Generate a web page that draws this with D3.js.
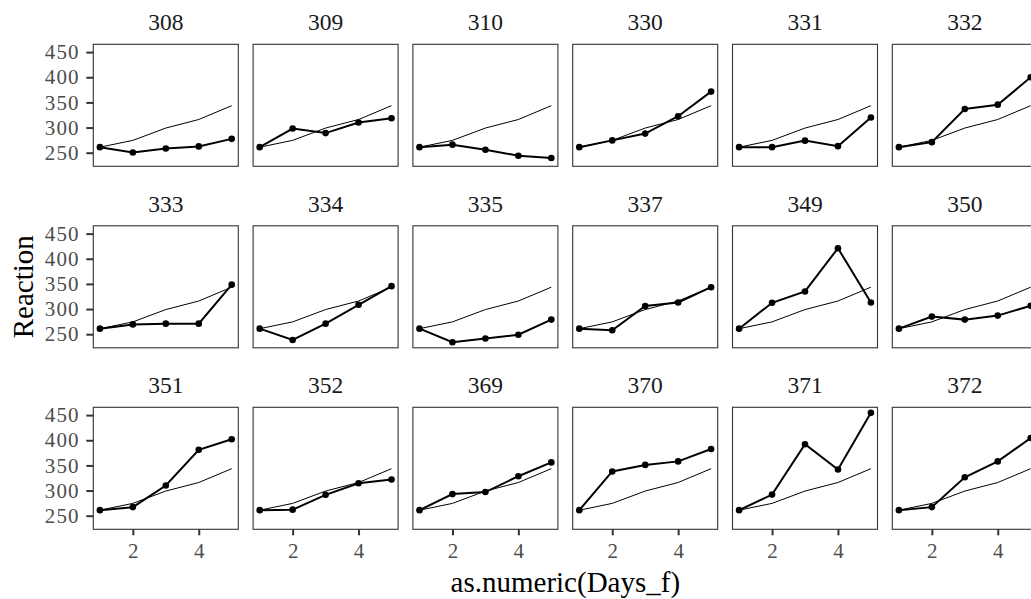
<!DOCTYPE html>
<html>
<head>
<meta charset="utf-8">
<script src="https://cdn.jsdelivr.net/npm/d3@7"></script>
<style>
  body { margin: 0; background: #fff; }
  svg { display: block; font-family: "Liberation Serif", "Times New Roman", serif; }
</style>
</head>
<body>
<div id="chart"></div>
<script>
// Data
const days = [1, 2, 3, 4, 5];
const subjects = ['308', '309', '310', '330', '331', '332',
                  '333', '334', '335', '337', '349', '350',
                  '351', '352', '369', '370', '371', '372'];
const meanReaction = [261, 274.5, 299, 316, 343.5];
const reaction = [
    [261, 250.5, 258.5, 262.5, 277.5],
    [261, 298, 289, 310, 318.5],
    [261, 266, 256, 244, 239.5],
    [261, 274.5, 288, 322.5, 371.5],
    [261, 261, 274, 263, 320],
    [261, 271, 337, 345.5, 400],
    [261, 269.5, 271, 271, 348.5],
    [261, 238.5, 271, 308.5, 345.5],
    [261, 234, 241.5, 249, 279],
    [261, 258, 306, 313, 343.5],
    [261, 312.5, 335, 421, 313],
    [261, 285, 279, 287, 306.5],
    [261, 267, 310, 381, 402],
    [261, 262, 291.5, 314.5, 322],
    [261, 293, 297, 328.5, 356],
    [261, 338, 351, 358, 382.5],
    [261, 292, 392, 342, 454.5],
    [261, 267, 326.5, 358, 404.5],
];
const yTicks = [250, 300, 350, 400, 450];
const xTicks = [2, 4];

// Dimensions
const dimensions = {
    width: 1031,
    height: 599,
    left: 93.3,
    top: 44.3,
    panelW: 145,
    panelH: 122,
    stepX: 159.8,
    stepY: 181.5,
    ncol: 6,
};
const nrow = Math.ceil(subjects.length / dimensions.ncol);

const svg = d3.select('#chart')
    .append('svg')
    .attr('width', dimensions.width)
    .attr('height', dimensions.height);

// Scales (ggplot-like 5% expansion)
const allY = reaction.flat().concat(meanReaction);
const [yLo, yHi] = d3.extent(allY);
const yPad = (yHi - yLo) * 0.05;
const xPad = (d3.max(days) - d3.min(days)) * 0.05;

const xScale = d3.scaleLinear()
    .domain([d3.min(days) - xPad, d3.max(days) + xPad])
    .range([0, dimensions.panelW]);
const yScale = d3.scaleLinear()
    .domain([yLo - yPad, yHi + yPad])
    .range([dimensions.panelH, 0]);

const line = d3.line()
    .x((d, i) => xScale(days[i]))
    .y(d => yScale(d));

subjects.forEach((subj, i) => {
    const col = i % dimensions.ncol;
    const row = Math.floor(i / dimensions.ncol);
    const g = svg.append('g')
        .attr('transform', `translate(${dimensions.left + col * dimensions.stepX}, ${dimensions.top + row * dimensions.stepY})`);

    g.append('rect')
        .attr('width', dimensions.panelW)
        .attr('height', dimensions.panelH)
        .attr('fill', '#fff');

    // Strip label
    g.append('text')
        .attr('x', dimensions.panelW / 2)
        .attr('y', -14)
        .attr('text-anchor', 'middle')
        .attr('font-size', 23.5)
        .attr('fill', '#1a1a1a')
        .text(subj);

    // Thin reference line
    g.append('path')
        .datum(meanReaction)
        .attr('d', line)
        .attr('fill', 'none')
        .attr('stroke', '#000')
        .attr('stroke-width', 1);

    // Subject line + points
    g.append('path')
        .datum(reaction[i])
        .attr('d', line)
        .attr('fill', 'none')
        .attr('stroke', '#000')
        .attr('stroke-width', 2);

    g.selectAll('circle')
        .data(reaction[i])
        .join('circle')
        .attr('cx', (d, j) => xScale(days[j]))
        .attr('cy', d => yScale(d))
        .attr('r', 3.3)
        .attr('fill', '#000');

    // Panel border
    g.append('rect')
        .attr('width', dimensions.panelW)
        .attr('height', dimensions.panelH)
        .attr('fill', 'none')
        .attr('stroke', '#333')
        .attr('stroke-width', 1.1);

    if (col === 0) {
        const yAxisGroup = g.append('g')
            .call(d3.axisLeft(yScale).tickValues(yTicks).tickSize(7).tickPadding(6.5));
        yAxisGroup.select('.domain').remove();
        yAxisGroup.selectAll('line').attr('stroke', '#333').attr('stroke-width', 2);
        yAxisGroup.selectAll('text')
            .attr('fill', '#4d4d4d')
            .attr('font-size', 21)
            .attr('letter-spacing', 1.2)
            .attr('font-family', '"Liberation Serif", serif');
    }
    if (row === nrow - 1) {
        const xAxisGroup = g.append('g')
            .attr('transform', `translate(0, ${dimensions.panelH})`)
            .call(d3.axisBottom(xScale).tickValues(xTicks).tickFormat(d3.format('d')).tickSize(6).tickPadding(7.4));
        xAxisGroup.select('.domain').remove();
        xAxisGroup.selectAll('line').attr('stroke', '#333').attr('stroke-width', 2);
        xAxisGroup.selectAll('text')
            .attr('fill', '#4d4d4d')
            .attr('font-size', 21)
            .attr('font-family', '"Liberation Serif", serif');
    }
});

// Axis titles
svg.append('text')
    .attr('x', dimensions.left + ((dimensions.ncol - 1) * dimensions.stepX + dimensions.panelW) / 2)
    .attr('y', 591.7)
    .attr('text-anchor', 'middle')
    .attr('font-size', 29)
    .attr('fill', '#000')
    .text('as.numeric(Days_f)');

svg.append('text')
    .attr('transform', `translate(33.3, ${dimensions.top + ((nrow - 1) * dimensions.stepY + dimensions.panelH) / 2}) rotate(-90)`)
    .attr('text-anchor', 'middle')
    .attr('font-size', 29)
    .attr('fill', '#000')
    .text('Reaction');
</script>
</body>
</html>
